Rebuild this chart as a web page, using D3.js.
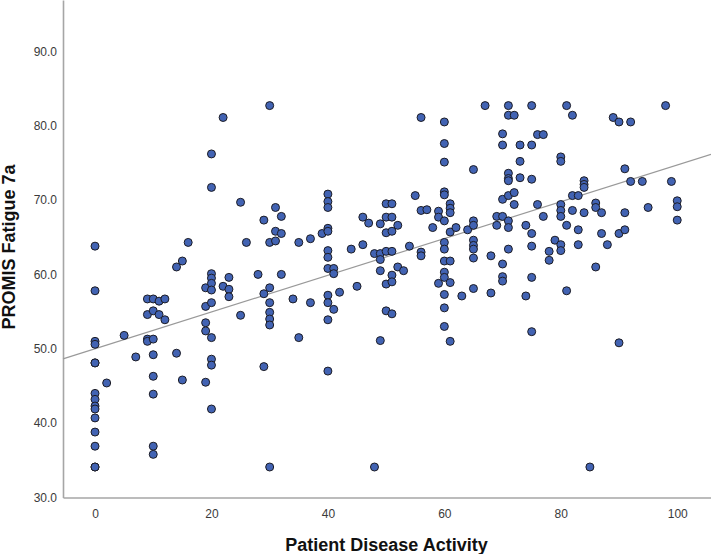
<!DOCTYPE html>
<html>
<head>
<meta charset="utf-8">
<script src="https://cdn.jsdelivr.net/npm/d3@7"></script>
<style>
  body { margin: 0; background: #fff; }
</style>
</head>
<body>
<script>
// disease activity values (x) and the fatigue scores seen at each of them (y)
const activity = [0, 2, 5, 7, 9, 10, 11, 12, 14, 15, 16, 19, 20, 22, 23, 25, 26, 28, 29, 30,
  31, 32, 34, 35, 37, 39, 40, 41, 42, 44, 45, 46, 47, 48, 49, 50, 51, 52, 53, 54,
  55, 56, 57, 58, 59, 60, 61, 62, 63, 64, 65, 67, 68, 69, 70, 71, 72, 73, 74, 75,
  76, 77, 78, 79, 80, 81, 82, 83, 84, 85, 86, 87, 88, 89, 90, 91, 92, 94, 95, 98, 99, 100];

const fatigue = [
  [63.8, 57.8, 51.0, 50.6, 48.1, 48.1, 44.0, 43.2, 42.3, 41.9, 40.7, 38.8, 36.9, 34.1, 34.1],
  [45.4],
  [51.8],
  [48.9],
  [56.7, 54.6, 51.3, 51.0],
  [56.7, 55.1, 51.3, 49.2, 46.3, 43.9, 36.9, 35.8],
  [56.4, 54.6],
  [56.7, 53.9],
  [61.0, 49.4],
  [61.8, 45.8],
  [64.3],
  [58.2, 55.7, 53.5, 52.4, 45.5],
  [76.2, 71.7, 60.1, 59.5, 58.8, 57.9, 56.2, 51.5, 48.6, 47.8, 41.9],
  [81.1, 58.4],
  [59.6, 58.0, 57.0],
  [69.7, 54.5],
  [64.3],
  [60.0],
  [67.3, 57.4, 47.6],
  [82.7, 64.3, 58.2, 56.2, 54.9, 54.0, 53.2, 34.1],
  [69.0, 65.8, 64.5],
  [67.8, 65.5, 60.0],
  [56.7],
  [64.3, 51.5],
  [64.8, 56.2],
  [65.5],
  [70.8, 69.8, 69.0, 66.2, 65.8, 63.2, 62.3, 60.8, 57.2, 56.2, 53.9, 47.0],
  [60.8, 60.1, 55.3],
  [57.6],
  [63.4],
  [58.4],
  [67.7, 64.0],
  [66.9],
  [62.8, 34.1],
  [66.8, 62.8, 62.0, 60.5, 51.1],
  [69.5, 67.7, 65.6, 63.1, 58.7, 55.1],
  [69.5, 67.7, 65.8, 63.1, 59.9, 59.0, 54.7],
  [66.6, 61.0],
  [60.5],
  [63.8],
  [70.6],
  [81.1, 68.6, 63.0, 62.5],
  [68.7],
  [66.3],
  [68.5, 67.7, 58.8],
  [80.5, 77.6, 75.1, 71.1, 70.7, 67.2, 64.3, 63.4, 61.8, 60.3, 59.6, 57.3, 55.5, 53.0],
  [69.5, 68.9, 68.3, 65.7, 61.8, 58.9, 51.0],
  [66.3],
  [57.1],
  [66.0],
  [74.1, 67.2, 66.6, 64.6, 63.9, 63.4, 62.2, 58.1],
  [82.7],
  [62.5, 57.5],
  [67.8, 66.6],
  [78.9, 77.4, 70.1, 67.8, 61.4, 59.7, 59.1],
  [82.7, 81.4, 73.6, 72.9, 72.6, 70.6, 67.2, 66.3, 63.4],
  [81.4, 71.0, 69.4],
  [77.4, 75.2, 73.0],
  [66.6, 57.1],
  [82.7, 77.4, 72.8, 65.5, 63.8, 59.6, 52.3],
  [78.8, 69.4],
  [78.8, 67.8],
  [63.1, 61.9],
  [64.6],
  [75.8, 75.2, 69.4, 68.6, 67.8, 64.0, 63.2],
  [82.7, 66.6, 57.8],
  [81.4, 70.6, 68.6],
  [70.6, 66.0, 64.0],
  [72.6, 72.1, 71.7, 68.3],
  [34.1],
  [69.6, 69.0, 61.0],
  [68.3, 65.5],
  [64.0],
  [81.1],
  [80.5, 65.5, 50.8],
  [74.2, 68.3, 66.0],
  [80.5, 72.5],
  [72.5],
  [69.0],
  [82.7],
  [72.5],
  [69.9, 69.1, 67.3]
];

// fit line
const fitIntercept = 50.0, fitSlope = 0.247;

const xTicks = [0, 20, 40, 60, 80, 100];
const yTicks = [30, 40, 50, 60, 70, 80, 90];

const canvWidth = 711, canvHeight = 554;
const margin = {top: 0, right: 0, bottom: 56.5, left: 63};
const width = canvWidth - margin.left - margin.right;
const height = canvHeight - margin.top - margin.bottom;

const points = [];
activity.forEach((a, i) => fatigue[i].forEach(f => points.push({x: a, y: f})));

const svg = d3.select("body").append("svg")
  .attr("width", canvWidth)
  .attr("height", canvHeight)
  .style("font-family", "'Liberation Sans', Arial, sans-serif");

const g = svg.append("g").attr("transform", `translate(${margin.left},${margin.top})`);

const x = d3.scaleLinear().domain([-5.5, 105.8]).range([0, width]);
const y = d3.scaleLinear().domain([30, 96.9]).range([height, 0]);

// axes
const xAxis = g.append("g").attr("transform", `translate(0,${height})`)
  .call(d3.axisBottom(x).tickValues(xTicks).tickSize(0).tickPadding(12).tickFormat(d3.format("d")));
const yAxis = g.append("g")
  .call(d3.axisLeft(y).tickValues(yTicks).tickSize(0).tickPadding(6).tickFormat(d3.format(".1f")));

[xAxis, yAxis].forEach(ax => {
  ax.select(".domain").attr("stroke", "#a6a6a6").attr("stroke-width", 1.6);
  ax.selectAll("text").attr("fill", "#3a3a3a").style("font-size", "12px")
    .style("font-family", "'Liberation Sans', Arial, sans-serif");
});

// fit line
g.append("line")
  .attr("x1", x(-5.5)).attr("y1", y(fitIntercept + fitSlope * -5.5))
  .attr("x2", x(105.8)).attr("y2", y(fitIntercept + fitSlope * 105.8))
  .attr("stroke", "#9a9a9a").attr("stroke-width", 1.2);

// points
g.selectAll("circle").data(points).enter().append("circle")
  .attr("cx", d => x(d.x))
  .attr("cy", d => y(d.y))
  .attr("r", 4)
  .attr("fill", "#4263b3")
  .attr("stroke", "#1c1c24")
  .attr("stroke-width", 1);

// titles
svg.append("text").text("Patient Disease Activity")
  .attr("x", 386.5).attr("y", 551)
  .attr("text-anchor", "middle")
  .style("font-size", "18px").style("font-weight", "bold").attr("fill", "#111");

svg.append("text").text("PROMIS Fatigue 7a")
  .attr("transform", "translate(15,247) rotate(-90)")
  .attr("text-anchor", "middle")
  .style("font-size", "18px").style("font-weight", "bold").attr("fill", "#111");
</script>
</body>
</html>
